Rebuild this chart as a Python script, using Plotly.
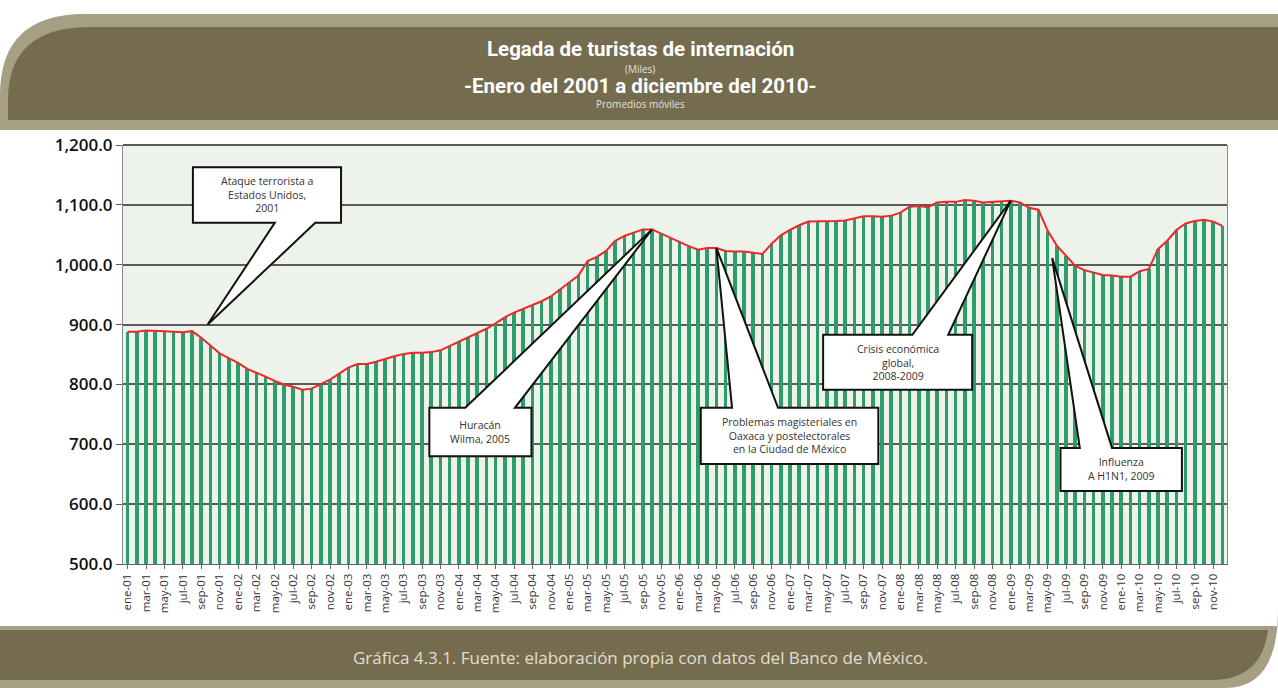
import plotly.graph_objects as go

# Llegada de turistas de internación, promedios móviles (miles), ene-2001 a dic-2010
meses = ["ene", "feb", "mar", "abr", "may", "jun", "jul", "ago", "sep", "oct", "nov", "dic"]
anios = list(range(2001, 2011))
etiquetas = [f"{m}-{a % 100:02d}" for a in anios for m in meses]

turistas = [
    888, 888, 890, 890, 889, 888, 887, 889, 878, 865, 852, 844,
    836, 826, 820, 813, 806, 800, 796, 791, 793, 801, 808, 818,
    828, 834, 834, 838, 843, 847, 851, 853, 853, 854, 857, 864,
    871, 878, 885, 893, 902, 912, 920, 926, 932, 939, 947, 959,
    970, 982, 1006, 1013, 1023, 1040, 1048, 1054, 1059, 1059, 1052, 1044,
    1038, 1031, 1025, 1028, 1028, 1023, 1022, 1022, 1020, 1018, 1035, 1049,
    1058, 1066, 1072, 1072, 1072, 1073, 1074, 1078, 1081, 1081, 1080, 1082,
    1087, 1097, 1098, 1096, 1104, 1105, 1105, 1108, 1107, 1104, 1105, 1107,
    1107, 1104, 1095, 1092, 1057, 1032, 1015, 998, 991, 987, 983, 982,
    980, 980, 989, 993, 1026, 1040, 1058, 1069, 1073, 1075, 1072, 1065,
]

y_ticks = [500, 600, 700, 800, 900, 1000, 1100, 1200]

# callouts: text, box (x0, x1, y_bottom, y_top), wedge base (xa, xb), tip month, tip value
callouts = [
    ("Ataque terrorista a<br>Estados Unidos,<br>2001", (7.1, 23.2, 1070, 1163), (16.0, 20.4), 8.7, 900),
    ("Huracán<br>Wilma, 2005", (32.8, 43.9, 680, 761), (36.7, 42.1), 57, 1059),
    ("Problemas magisteriales en<br>Oaxaca y postelectorales<br>en la Ciudad de México",
     (62.3, 81.6, 667, 761), (65.7, 70.7), 64, 1028),
    ("Crisis económica<br>global,<br>2008-2009", (75.6, 91.8, 791, 883), (85.3, 89.2), 96, 1107),
    ("Influenza<br>A H1N1, 2009", (101.4, 114.6, 622, 694), (103.5, 107.0), 100.5, 1011),
]

W, H = 1278, 688
L, R, T, B = 123, 51, 145, 124


def px(x):
    return (x - L) / (W - L - R)


def py(y):
    return (H - B - y) / (H - T - B)


x_idx = list(range(len(turistas)))

fig = go.Figure()
fig.add_trace(go.Bar(x=x_idx, y=turistas, width=0.38, marker_color="#2e9d69",
                     marker_line_width=0, showlegend=False))
fig.add_trace(go.Scatter(x=x_idx, y=turistas, mode="lines", line=dict(color="#f0262b", width=2),
                         showlegend=False))

shapes = []
# header band
shapes.append(dict(type="path", xref="paper", yref="paper", layer="below",
                   path=f"M {px(0)},{py(130)} L {px(0)},{py(95)} Q {px(0)},{py(14)} {px(85)},{py(14)} "
                        f"L {px(1278)},{py(14)} L {px(1278)},{py(130)} Z",
                   fillcolor="#a79f84", line=dict(width=0)))
shapes.append(dict(type="path", xref="paper", yref="paper", layer="below",
                   path=f"M {px(8)},{py(120)} L {px(8)},{py(100)} Q {px(8)},{py(27)} {px(90)},{py(27)} "
                        f"L {px(1278)},{py(27)} L {px(1278)},{py(120)} Z",
                   fillcolor="#756c50", line=dict(width=0)))
# footer band
shapes.append(dict(type="path", xref="paper", yref="paper", layer="below",
                   path=f"M {px(0)},{py(626)} L {px(1278)},{py(626)} L {px(1278)},{py(610)} "
                        f"Q {px(1278)},{py(688)} {px(1225)},{py(688)} L {px(0)},{py(688)} Z",
                   fillcolor="#a79f84", line=dict(width=0)))
shapes.append(dict(type="path", xref="paper", yref="paper", layer="below",
                   path=f"M {px(0)},{py(630)} L {px(1268)},{py(630)} "
                        f"Q {px(1262)},{py(678)} {px(1215)},{py(680)} L {px(0)},{py(680)} Z",
                   fillcolor="#756c50", line=dict(width=0)))
# dark top border of the plot area
shapes.append(dict(type="line", xref="paper", yref="paper", x0=0, x1=1, y0=1, y1=1,
                   line=dict(color="#5a5a5a", width=2)))

annotations = []
for text, (x0, x1, y0, y1), (xa, xb), tx, ty in callouts:
    if ty > y1:
        path = (f"M {x0},{y0} L {x0},{y1} L {xa},{y1} L {tx},{ty} L {xb},{y1} "
                f"L {x1},{y1} L {x1},{y0} Z")
    else:
        path = (f"M {x0},{y1} L {x1},{y1} L {x1},{y0} L {xb},{y0} L {tx},{ty} "
                f"L {xa},{y0} L {x0},{y0} Z")
    shapes.append(dict(type="path", xref="x", yref="y", path=path, layer="above",
                       fillcolor="white", line=dict(color="#111111", width=2)))
    annotations.append(dict(x=(x0 + x1) / 2, y=(y0 + y1) / 2, xref="x", yref="y", text=text,
                            showarrow=False, align="center",
                            font=dict(family="Open Sans", size=10.5, color="#333333")))

title_font = dict(family="Roboto", size=20.5, color="white", weight="bold")
small_font = dict(family="Open Sans", size=10, color="#e6e2d6")


def header_text(y, text, font):
    return dict(x=px(640), y=py(y), xref="paper", yref="paper", text=text, showarrow=False,
                xanchor="center", yanchor="middle", font=font, borderpad=0)


annotations += [
    header_text(49, "Legada de turistas de internación", title_font),
    header_text(69, "(Miles)", small_font),
    header_text(86, "-Enero del 2001 a diciembre del 2010-", title_font),
    header_text(104, "Promedios móviles", small_font),
    header_text(657, "Gráfica 4.3.1. Fuente: elaboración propia con datos del Banco de México.",
                dict(family="Open Sans", size=17, color="#e2ddcf")),
]

fig.update_layout(
    width=W, height=H,
    margin=dict(l=L, r=R, t=T, b=B),
    paper_bgcolor="white",
    plot_bgcolor="#edf2ea",
    bargap=0,
    shapes=shapes,
    annotations=annotations,
)
fig.update_xaxes(range=[-0.5, len(turistas) - 0.5], tickmode="array",
                 tickvals=x_idx[::2], ticktext=etiquetas[::2], tickangle=-90,
                 tickfont=dict(family="Open Sans", size=11.5, color="#333333"),
                 showgrid=False, showline=True, linecolor="#666666", linewidth=1,
                 ticks="outside", ticklen=4, tickcolor="#666666")
fig.update_yaxes(range=[500, 1200], tickvals=y_ticks, tickformat=",.1f",
                 tickfont=dict(family="Open Sans", size=17, color="#111111", weight=600),
                 showgrid=True, gridcolor="#5a5a5a", gridwidth=1.5,
                 showline=True, linecolor="#8a8a8a", linewidth=1, mirror=True,
                 ticks="outside", ticklen=6, tickcolor="#5a5a5a", zeroline=False)

fig.write_html("out.html", config={"displayModeBar": False},
               post_script="document.body.style.margin='0';")
